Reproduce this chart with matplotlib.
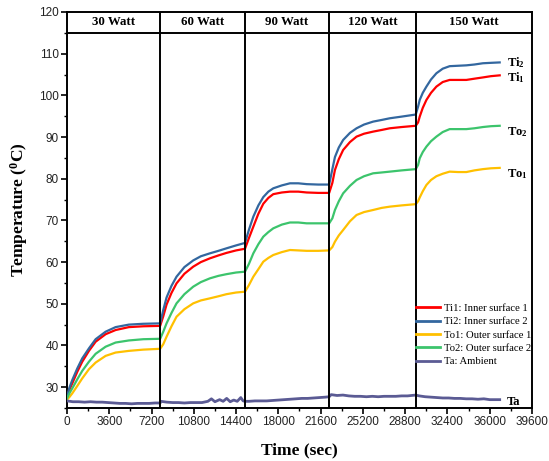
import matplotlib
matplotlib.use("Agg")
import matplotlib.pyplot as plt
from matplotlib.ticker import MultipleLocator

# ==========================================================
# DATA
# ==========================================================

time_s = [
    0, 200, 450, 880, 1300, 1870, 2440, 3290, 4140, 5270, 6500, 7935,
    8200, 8480, 8900, 9330, 10000, 10750, 11400, 12170, 12900, 13580, 14400, 15160,
    15500, 15870, 16300, 16720, 17150, 17570, 18300, 18990, 19700, 20410, 21400, 22330,
    22600, 22820, 23150, 23520, 24100, 24660, 25300, 26070, 26800, 27490, 28500, 29700,
    29900, 30040, 30300, 30610, 31000, 31460, 32000, 32590, 33300, 34010, 34700, 35420,
    36100, 36850,
]

ti1 = [
    27.5, 29.3, 30.9, 33.7, 36.1, 38.7, 40.9, 42.7, 43.7, 44.4, 44.6, 44.7,
    47.0, 49.8, 52.6, 54.9, 57.2, 58.9, 60.0, 60.9, 61.6, 62.2, 62.8, 63.2,
    65.8, 68.5, 71.6, 74.0, 75.4, 76.3, 76.7, 76.9, 76.9, 76.7, 76.6, 76.6,
    79.0, 82.1, 84.7, 86.9, 88.8, 90.1, 90.8, 91.3, 91.7, 92.1, 92.4, 92.7,
    93.5, 94.9, 97.0, 98.9, 100.6, 102.1, 103.2, 103.7, 103.7, 103.7, 104.0, 104.3,
    104.6, 104.8,
]

ti2 = [
    27.7, 29.8, 31.7, 34.5, 36.9, 39.3, 41.5, 43.3, 44.4, 45.0, 45.2, 45.3,
    48.5, 51.5, 54.3, 56.5, 58.8, 60.4, 61.4, 62.1, 62.7, 63.3, 64.0, 64.6,
    67.8, 70.9, 73.6, 75.6, 76.9, 77.7, 78.4, 78.9, 78.9, 78.7, 78.6, 78.6,
    82.3, 85.2, 87.5, 89.3, 91.0, 92.1, 93.0, 93.7, 94.1, 94.5, 94.9, 95.4,
    97.3, 98.9, 100.6, 102.1, 103.8, 105.3, 106.4, 107.0, 107.1, 107.2, 107.4, 107.7,
    107.8, 107.9,
]

to1 = [
    27.0, 27.6, 28.5, 30.3, 32.1, 34.3, 35.9, 37.5, 38.3, 38.7, 39.0, 39.2,
    40.3, 42.1, 44.6, 46.9, 48.7, 50.1, 50.8, 51.3, 51.8, 52.3, 52.7, 52.9,
    54.5, 56.5, 58.3, 60.1, 61.0, 61.7, 62.4, 62.9, 62.8, 62.7, 62.7, 62.8,
    63.6, 64.9, 66.4, 67.7, 69.8, 71.3, 72.0, 72.5, 73.0, 73.3, 73.6, 73.9,
    74.6, 75.5, 77.0, 78.5, 79.7, 80.6, 81.2, 81.7, 81.6, 81.6, 82.0, 82.3,
    82.5, 82.6,
]

to2 = [
    27.3, 28.5, 29.7, 31.9, 33.9, 36.1, 38.0, 39.7, 40.7, 41.2, 41.5, 41.6,
    43.3, 45.3, 47.8, 50.1, 52.3, 54.1, 55.2, 56.1, 56.7, 57.1, 57.5, 57.7,
    59.6, 62.1, 64.3, 66.1, 67.2, 68.1, 69.0, 69.5, 69.5, 69.3, 69.3, 69.3,
    70.5, 72.5, 74.6, 76.5, 78.3, 79.7, 80.6, 81.3, 81.5, 81.7, 82.0, 82.3,
    83.3, 84.9, 86.4, 87.7, 89.0, 90.1, 91.2, 91.9, 91.9, 91.9, 92.1, 92.4,
    92.6, 92.7,
]

ambient_time_s = [
    0, 500, 1000, 1500, 2000, 2500, 3000, 3500, 4000, 4500, 5000, 5500, 6000,
    6500, 7000, 7500, 7935,
    8000, 8500, 9000, 9500, 10000, 10500, 11000, 11500, 12000, 12300, 12600,
    13000, 13300, 13600, 13900, 14200, 14500, 14800, 15000, 15160,
    15500, 16000, 16500, 17000, 17500, 18000, 18500, 19000, 19500, 20000,
    20500, 21000, 21500, 22000, 22330,
    22500, 23000, 23500, 24000, 24500, 25000, 25500, 26000, 26500, 27000,
    27500, 28000, 28500, 29000, 29700,
    30000, 30500, 31000, 31500, 32000, 32500, 33000, 33500, 34000, 34500,
    35000, 35500, 36000, 36500, 36850,
]

ambient = [
    26.7, 26.5, 26.5, 26.4, 26.5, 26.4, 26.4, 26.3, 26.2, 26.1, 26.1, 26.0, 26.1,
    26.1, 26.1, 26.2, 26.2,
    26.6, 26.4, 26.3, 26.3, 26.2, 26.3, 26.3, 26.3, 26.6, 27.2, 26.5,
    27.0, 26.6, 27.3, 26.5, 26.9, 26.6, 27.5, 26.7, 26.6,
    26.6, 26.7, 26.7, 26.7, 26.8, 26.9, 27.0, 27.1, 27.2, 27.3,
    27.3, 27.4, 27.5, 27.6, 27.7,
    28.2, 28.0, 28.1, 27.9, 27.8, 27.8, 27.7, 27.8, 27.7, 27.8,
    27.8, 27.8, 27.9, 27.9, 28.1,
    27.9, 27.7, 27.6, 27.5, 27.4, 27.4, 27.3, 27.3, 27.2, 27.2,
    27.1, 27.2, 27.0, 27.0, 27.0,
]

segment_edges = [0, 7935, 15160, 22330, 29700, 39600]
segment_labels = ["30 Watt", "60 Watt", "90 Watt", "120 Watt", "150 Watt"]

legend_labels = [
    "Ti1: Inner surface 1",
    "Ti2: Inner surface 2",
    "To1: Outer surface 1",
    "To2: Outer surface 2",
    "Ta: Ambient",
]

end_labels = ["Ti$_{1}$", "Ti$_{2}$", "To$_{1}$", "To$_{2}$", "Ta"]
end_label_y = [103.5, 106.9, 80.3, 90.5, 25.7]

colors = ["#ff0000", "#33679f", "#ffc000", "#3cc46c", "#5b5b94"]

# ==========================================================
# STYLE
# ==========================================================

plt.rcParams["mathtext.fontset"] = "custom"
plt.rcParams["mathtext.rm"] = "Liberation Serif:bold"
plt.rcParams["mathtext.it"] = "Liberation Serif:bold"
plt.rcParams["mathtext.bf"] = "Liberation Serif:bold"

SERIF = "Liberation Serif"
SANS = "Liberation Sans"

# ==========================================================
# PLOT
# ==========================================================

fig = plt.figure(figsize=(5.49, 4.61), dpi=100)
ax = fig.add_axes([0.122, 0.115, 0.847, 0.859])

series = [ti1, ti2, to1, to2]
for values, color, label in zip(series, colors[:4], legend_labels[:4]):
    ax.plot(time_s, values, color=color, lw=1.6, label=label, zorder=3,
            solid_joinstyle="round")

ax.plot(ambient_time_s, ambient, color=colors[4], lw=2.0,
        label=legend_labels[4], zorder=3)

# header band and dividers
ax.axhline(115, color="black", lw=1.4, zorder=4)
for edge in segment_edges[1:-1]:
    ax.axvline(edge, color="black", lw=1.4, zorder=4)

for i, name in enumerate(segment_labels):
    mid = (segment_edges[i] + segment_edges[i + 1]) / 2
    ax.text(mid, 117.6, name, ha="center", va="center",
            family=SERIF, fontweight="bold", fontsize=9.3)

# end labels
for text, y in zip(end_labels, end_label_y):
    ax.text(37450, y, text, ha="left", va="baseline",
            family=SERIF, fontweight="bold", fontsize=9)

ax.set_xlim(0, 39600)
ax.set_ylim(25, 120)

ax.xaxis.set_major_locator(MultipleLocator(3600))
ax.xaxis.set_minor_locator(MultipleLocator(1800))
ax.set_yticks(range(30, 121, 10))
ax.yaxis.set_minor_locator(MultipleLocator(5))

ax.tick_params(which="major", direction="out", length=4, width=1.2,
               labelsize=8.5, labelcolor="#222222", pad=2)
ax.tick_params(which="minor", direction="out", length=2, width=1.0)
ax.tick_params(top=False, right=False)
for lab in ax.get_xticklabels() + ax.get_yticklabels():
    lab.set_family(SANS)

for spine in ax.spines.values():
    spine.set_linewidth(1.4)

ax.set_xlabel("Time (sec)", family=SERIF, fontweight="bold",
              fontsize=12.5, labelpad=10)
ax.set_ylabel("Temperature ($^{0}$C)", family=SERIF, fontweight="bold",
              fontsize=12.5, labelpad=6)

leg = ax.legend(loc="upper left", bbox_to_anchor=(0.75, 0.264),
                frameon=False, borderpad=0, borderaxespad=0,
                handlelength=2.3, handletextpad=0.3, labelspacing=0.36,
                prop={"family": SERIF, "size": 7.7})
for line in leg.get_lines():
    line.set_linewidth(2.0)

plt.savefig("out.png", dpi=100)
